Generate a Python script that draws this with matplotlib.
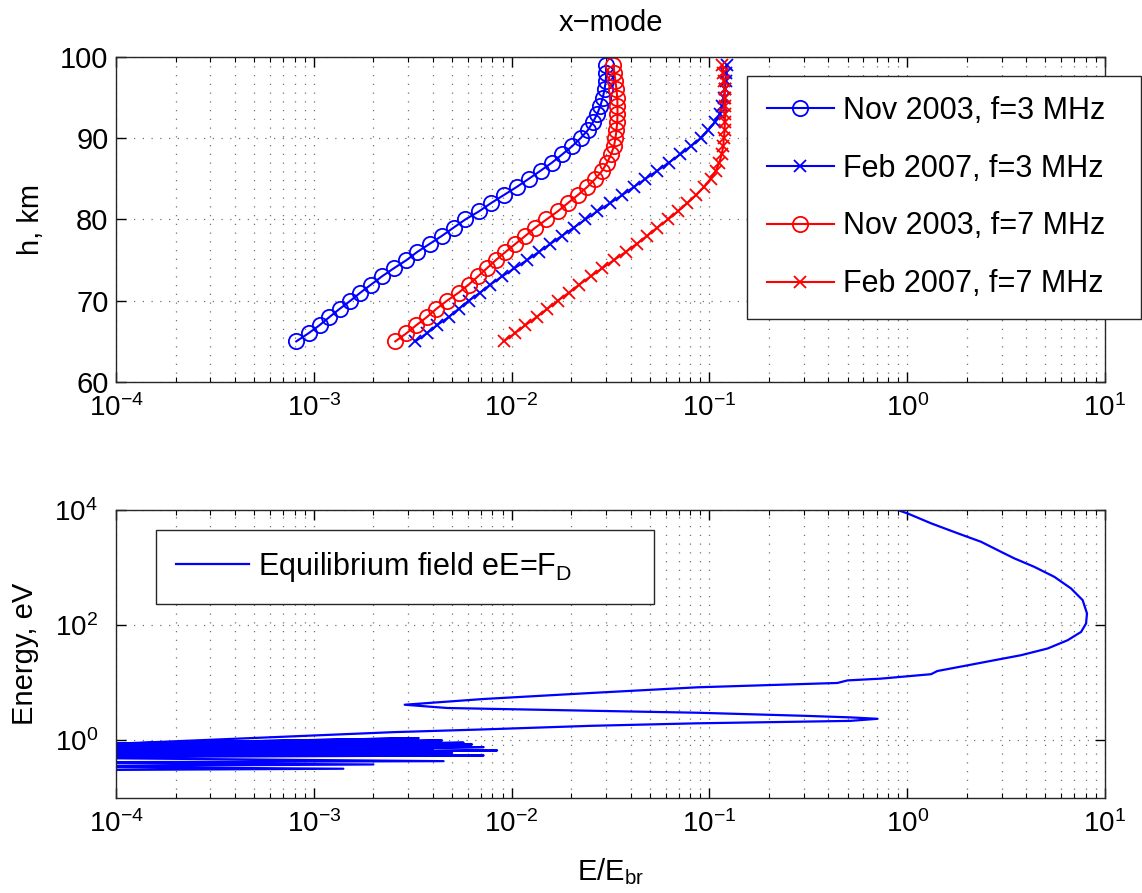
import matplotlib
matplotlib.use('Agg')
import matplotlib.pyplot as plt
from matplotlib.ticker import LogLocator, NullLocator

plt.rcParams['font.family'] = ['Liberation Sans', 'DejaVu Sans']
plt.rcParams['mathtext.fontset'] = 'custom'
plt.rcParams['mathtext.rm'] = 'Liberation Sans'
plt.rcParams['mathtext.it'] = 'Liberation Sans:italic'
plt.rcParams['mathtext.bf'] = 'Liberation Sans:bold'

# altitude, km
h = [65, 66, 67, 68, 69, 70, 71, 72, 73, 74, 75, 76, 77, 78, 79, 80, 81, 82,
     83, 84, 85, 86, 87, 88, 89, 90, 91, 92, 93, 94, 95, 96, 97, 98, 99]

# E/E_br, x-mode
nov03_3 = [8.15e-4, 9.40e-4, 1.07e-3, 1.20e-3, 1.35e-3, 1.53e-3, 1.72e-3, 1.95e-3,
           2.21e-3, 2.54e-3, 2.94e-3, 3.33e-3, 3.85e-3, 4.45e-3, 5.09e-3, 5.83e-3,
           6.84e-3, 7.85e-3, 9.12e-3, 0.0106, 0.0122, 0.0140, 0.0160, 0.0180,
           0.0202, 0.0223, 0.0243, 0.0258, 0.0271, 0.0281, 0.0289, 0.0295,
           0.0299, 0.0301, 0.0299]
feb07_3 = [3.26e-3, 3.73e-3, 4.20e-3, 4.81e-3, 5.40e-3, 6.07e-3, 6.92e-3, 7.82e-3,
           8.95e-3, 0.01033, 0.01197, 0.01371, 0.0157, 0.0180, 0.0206, 0.0236,
           0.0271, 0.0314, 0.0362, 0.0415, 0.0475, 0.0545, 0.0624, 0.0710,
           0.0804, 0.0902, 0.0986, 0.1067, 0.1127, 0.1161, 0.1183, 0.1197,
           0.1208, 0.1219, 0.1222]
nov03_7 = [2.58e-3, 2.94e-3, 3.30e-3, 3.73e-3, 4.16e-3, 4.71e-3, 5.40e-3, 6.07e-3,
           6.76e-3, 7.50e-3, 8.32e-3, 9.31e-3, 0.01045, 0.01175, 0.01318, 0.0150,
           0.0171, 0.0192, 0.0216, 0.0241, 0.0265, 0.0287, 0.0304, 0.0318,
           0.0329, 0.0335, 0.0339, 0.0342, 0.0343, 0.0343, 0.0342, 0.0339,
           0.0335, 0.0331, 0.0327]
feb07_7 = [9.12e-3, 0.01038, 0.01175, 0.01337, 0.01514, 0.0171, 0.0195, 0.0220,
           0.0251, 0.0287, 0.0329, 0.0377, 0.0429, 0.0485, 0.0545, 0.0617,
           0.0693, 0.0773, 0.0855, 0.0938, 0.1014, 0.1079, 0.1122, 0.1153,
           0.1175, 0.1183, 0.1194, 0.1197, 0.1202, 0.1202, 0.1197, 0.1194,
           0.1183, 0.1175, 0.1161]
labels = ['Nov 2003, f=3 MHz', 'Feb 2007, f=3 MHz', 'Nov 2003, f=7 MHz', 'Feb 2007, f=7 MHz']

# equilibrium field eE=F_D: E/E_br vs energy (eV)
eq_ratio = [0.893, 1.00, 1.32, 1.80, 2.36, 2.98, 3.48, 4.39, 5.54, 6.73, 7.71, 8.11,
            8.02, 7.57, 6.47, 5.13, 3.76, 2.75, 2.02, 1.42, 1.32, 0.735, 0.499, 0.444,
            0.0871, 0.0251, 7.2e-3, 2.88e-3, 4.73e-3, 0.0251, 0.0871, 0.303, 0.514,
            0.708, 0.514, 0.0871, 0.0251, 7.2e-3, 2.53e-3, 1.0e-4, 3e-5,
            3e-5, 3.39e-3, 3e-5, 2.2e-3, 3e-5, 4.45e-3, 3e-5, 2.6e-3, 3e-5, 5.72e-3,
            3e-5, 6.31e-3, 3e-5, 3.0e-3, 3e-5, 7.22e-3, 3e-5, 4.0e-3, 3e-5, 8.45e-3,
            3e-5, 5.0e-3, 3e-5, 7.22e-3, 3e-5, 4.53e-3, 3e-5, 2.0e-3, 3e-5, 1.41e-3, 3e-5]
eq_energy = [1.0e4, 8770, 5870, 3940, 2810, 1880, 1445, 1030, 692, 435, 272, 160,
             107, 76.4, 54.8, 39.4, 30.1, 24.6, 20.1, 16.0, 14.1, 11.8, 11.0, 9.93,
             8.35, 6.65, 5.23, 4.16, 3.65, 3.27, 3.02, 2.67, 2.51,
             2.37, 2.18, 1.98, 1.79, 1.55, 1.39, 0.875, 0.73,
             0.819, 1.096, 0.802, 1.041, 0.771, 1.00, 0.756, 0.942, 0.726, 0.912,
             0.711, 0.852, 0.684, 0.819, 0.657, 0.765, 0.631, 0.711, 0.606, 0.670,
             0.571, 0.606, 0.538, 0.548, 0.506, 0.436, 0.414, 0.382, 0.353, 0.322, 0.301]

fig = plt.figure(figsize=(11.42, 8.93), dpi=100)
ax1 = fig.add_axes([0.1016, 0.5722, 0.866, 0.364])
ax2 = fig.add_axes([0.1016, 0.1064, 0.866, 0.3225])

ax1.plot(nov03_3, h, '-o', color='b', mfc='none', ms=11, mew=1.3, lw=1.5, label=labels[0])
ax1.plot(feb07_3, h, '-x', color='b', ms=8.5, mew=1.3, lw=1.5, label=labels[1])
ax1.plot(nov03_7, h, '-o', color='r', mfc='none', ms=11, mew=1.3, lw=1.5, label=labels[2])
ax1.plot(feb07_7, h, '-x', color='r', ms=8.5, mew=1.3, lw=1.5, label=labels[3])

ax2.plot(eq_ratio, eq_energy, color='b', lw=1.6, label='Equilibrium field eE=F$_\\mathrm{D}$')

grid_style = dict(color='0.45', lw=0.9, ls=(0, (1, 6)))

for ax in (ax1, ax2):
    ax.set_xscale('log')
    ax.set_xlim(1e-4, 10)
    ax.xaxis.set_major_locator(LogLocator(base=10, numticks=12))
    ax.xaxis.set_minor_locator(LogLocator(base=10, subs=range(2, 10), numticks=12))
    ax.tick_params(which='both', direction='in', top=True, right=True, labelsize=20)
    ax.tick_params(which='major', length=7, width=1)
    ax.tick_params(which='minor', length=3.5, width=0.8)
    ax.tick_params(axis='x', pad=9)
    ax.grid(True, which='both', axis='x', **grid_style)
    ax.grid(True, which='major', axis='y', **grid_style)
    for s in ax.spines.values():
        s.set_linewidth(1.0)
        s.set_color('0.15')

ax1.set_ylim(60, 100)
ax1.set_yticks([60, 70, 80, 90, 100])
ax1.tick_params(axis='y', labelsize=21, pad=5.5)
ax1.set_title('x\u2212mode', fontsize=21, pad=18.5)
ax1.set_ylabel('h, km', fontsize=21)
ax1.yaxis.set_label_coords(-0.072, 0.5)

ax2.set_yscale('log')
ax2.set_ylim(0.1, 1e4)
ax2.set_yticks([1, 100, 10000])
ax2.yaxis.set_minor_locator(NullLocator())
ax2.tick_params(axis='y', pad=13)
ax2.set_ylabel('Energy, eV', fontsize=21)
ax2.yaxis.set_label_coords(-0.078, 0.5)
ax2.set_xlabel('E/E$_\\mathrm{br}$', fontsize=21, labelpad=13)

leg_style = dict(loc='upper left', mode='expand', fontsize=22, handletextpad=0.3,
                 borderpad=0.65, borderaxespad=0, fancybox=False, framealpha=1,
                 edgecolor='0.15')
leg1 = ax1.legend(bbox_to_anchor=(0.6377, 0.0, 0.3982, 0.9415), handlelength=2.2,
                  labelspacing=0.91, **leg_style)
leg2 = ax2.legend(bbox_to_anchor=(0.0401, 0.0, 0.5034, 0.9306), handlelength=2.4,
                  **leg_style)
for leg in (leg1, leg2):
    leg.get_frame().set_linewidth(1.0)

fig.savefig('out.png', dpi=100)
